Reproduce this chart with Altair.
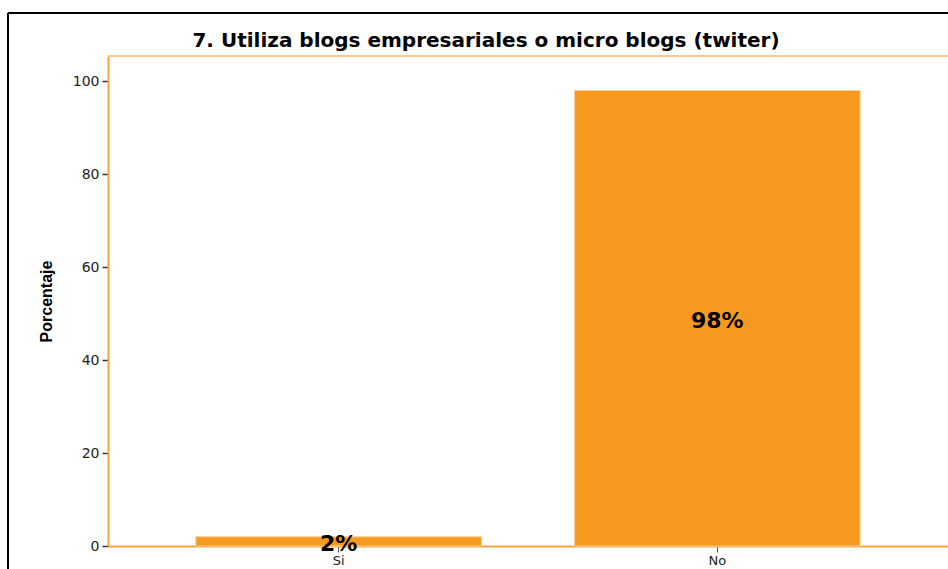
import altair as alt
import pandas as pd

categories = ["Si", "No"]
values = [2, 98]
labels = ["2%", "98%"]

df = pd.DataFrame({"cat": categories, "val": values, "lab": labels})

FONT = "Liberation Sans"
WIDE = "DejaVu Sans"
ORANGE = "#F7991F"

x_enc = alt.X("cat:N", sort=categories, title=None,
              scale=alt.Scale(paddingInner=0.245, paddingOuter=0.232),
              axis=alt.Axis(labelAngle=0, labelFont=WIDE, labelFontSize=13, labelColor="#222",
                            tickColor="#555", tickSize=6, domainColor="#F5A33A", domainWidth=2,
                            labelPadding=2))
y_enc = alt.Y("val:Q", title="Porcentaje",
              scale=alt.Scale(domain=[0, 105.4], nice=False),
              axis=alt.Axis(values=[0, 20, 40, 60, 80, 100], grid=False,
                            labelFont=WIDE, labelFontSize=14, labelColor="#222",
                            tickColor="#333", tickSize=6, tickWidth=1.5,
                            domainColor="#F5A33A", domainWidth=2, labelPadding=3,
                            titleFont=FONT, titleFontSize=16, titleFontWeight="bold",
                            titleColor="#000", titlePadding=18))

bars = alt.Chart(df).mark_bar(color=ORANGE, stroke="#FBD3A5", strokeWidth=1).encode(x=x_enc, y=y_enc)

text = alt.Chart(df).transform_calculate(mid="datum.val / 2").mark_text(
    font=WIDE, fontSize=22, fontWeight="bold", color="#000", baseline="middle", dy=3
).encode(x=alt.X("cat:N", sort=categories), y=alt.Y("mid:Q"), text="lab:N")

top_line = alt.Chart(df).mark_rule(color="#FCC88A", strokeWidth=2).encode(
    x=alt.value(0), x2=alt.value(840), y=alt.value(0))

frame_left = alt.Chart(df).mark_rule(color="#000", strokeWidth=2).encode(
    x=alt.value(-100), y=alt.value(-43), y2=alt.value(540))
frame_top = alt.Chart(df).mark_rule(color="#000", strokeWidth=2).encode(
    x=alt.value(-100), x2=alt.value(840), y=alt.value(-43))

chart = alt.layer(bars, text, top_line, frame_left, frame_top).properties(
    width=840, height=490,
    title=alt.TitleParams("7. Utiliza blogs empresariales o micro blogs (twiter)",
                          font=WIDE, fontSize=20, fontWeight="bold", color="#000",
                          anchor="middle", dx=-42, offset=-39),
    autosize="none",
    padding={"left": 108, "top": 56, "right": 0, "bottom": 23},
).configure_view(stroke=None).configure(background="white")

chart.save("out.html", embed_options={"renderer": "svg", "actions": False})
